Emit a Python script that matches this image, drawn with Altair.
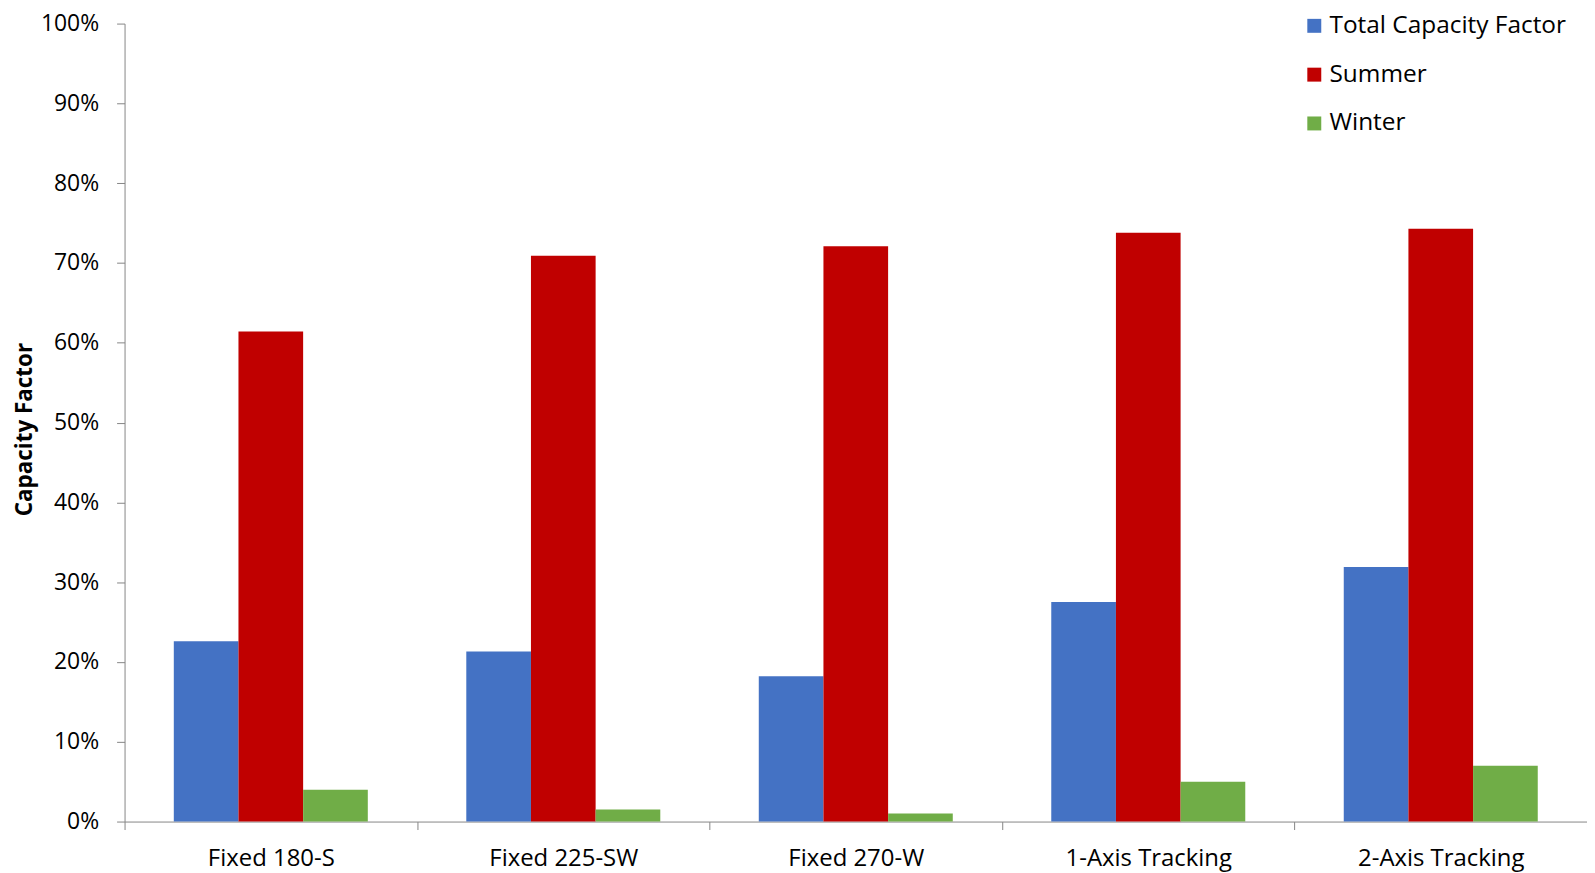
import altair as alt
import pandas as pd

categories = ["Fixed 180-S", "Fixed 225-SW", "Fixed 270-W", "1-Axis Tracking", "2-Axis Tracking"]
series_names = ["Total Capacity Factor", "Summer", "Winter"]
total_cf = [0.226, 0.213, 0.182, 0.275, 0.319]
summer_cf = [0.614, 0.709, 0.721, 0.738, 0.743]
winter_cf = [0.040, 0.015, 0.010, 0.050, 0.070]
colors = ["#4472C4", "#C00000", "#70AD47"]
y_ticks = [0.0, 0.1, 0.2, 0.3, 0.4, 0.5, 0.6, 0.7, 0.8, 0.9, 1.0]

rows = []
for i, c in enumerate(categories):
    for s, vals in zip(series_names, [total_cf, summer_cf, winter_cf]):
        rows.append({"config": c, "series": s, "value": vals[i]})
df = pd.DataFrame(rows)

FONT = "Open Sans"
AXIS_GREY = "#868686"

chart = alt.Chart(df).mark_bar().encode(
    x=alt.X(
        "config:N", sort=categories, title=None,
        scale=alt.Scale(paddingInner=0, paddingOuter=0),
        axis=alt.Axis(
            labelAngle=0, tickBand="extent", labelFont=FONT, labelFontSize=24,
            labelColor="#000000", labelBaseline="alphabetic", labelPadding=36,
            tickSize=8, domainColor=AXIS_GREY, tickColor=AXIS_GREY, labelLimit=300,
        ),
    ),
    xOffset=alt.XOffset("series:N", sort=series_names,
                        scale=alt.Scale(paddingInner=0, paddingOuter=0.7615)),
    y=alt.Y(
        "value:Q", scale=alt.Scale(domain=[0, 1], nice=False),
        axis=alt.Axis(
            values=y_ticks, format=".0%", title="Capacity Factor", grid=False,
            labelFont=FONT, labelFontSize=23, labelColor="#000000", labelPadding=18,
            tickSize=8, domainColor=AXIS_GREY, tickColor=AXIS_GREY,
            titleFont=FONT, titleFontSize=22.5, titleFontWeight="bold", titleColor="#000000",
            titleX=-100, titleY=407, titleAngle=270, titleBaseline="middle", titleAlign="center",
        ),
    ),
    color=alt.Color(
        "series:N", sort=series_names,
        scale=alt.Scale(domain=series_names, range=colors),
        legend=alt.Legend(
            orient="none", legendX=1182, legendY=-10, title=None,
            symbolType="square", symbolSize=196, symbolStrokeWidth=0,
            labelFont=FONT, labelFontSize=24.5, labelColor="#000000",
            labelOffset=3, rowPadding=24, labelLimit=400,
        ),
    ),
).properties(
    width=1468, height=801,
    padding={"left": 117, "top": 14, "right": 0, "bottom": 52},
    autosize=alt.AutoSizeParams(type="none"),
).configure_view(stroke=None)

chart.save("out.html", embed_options={"renderer": "svg", "actions": False})
